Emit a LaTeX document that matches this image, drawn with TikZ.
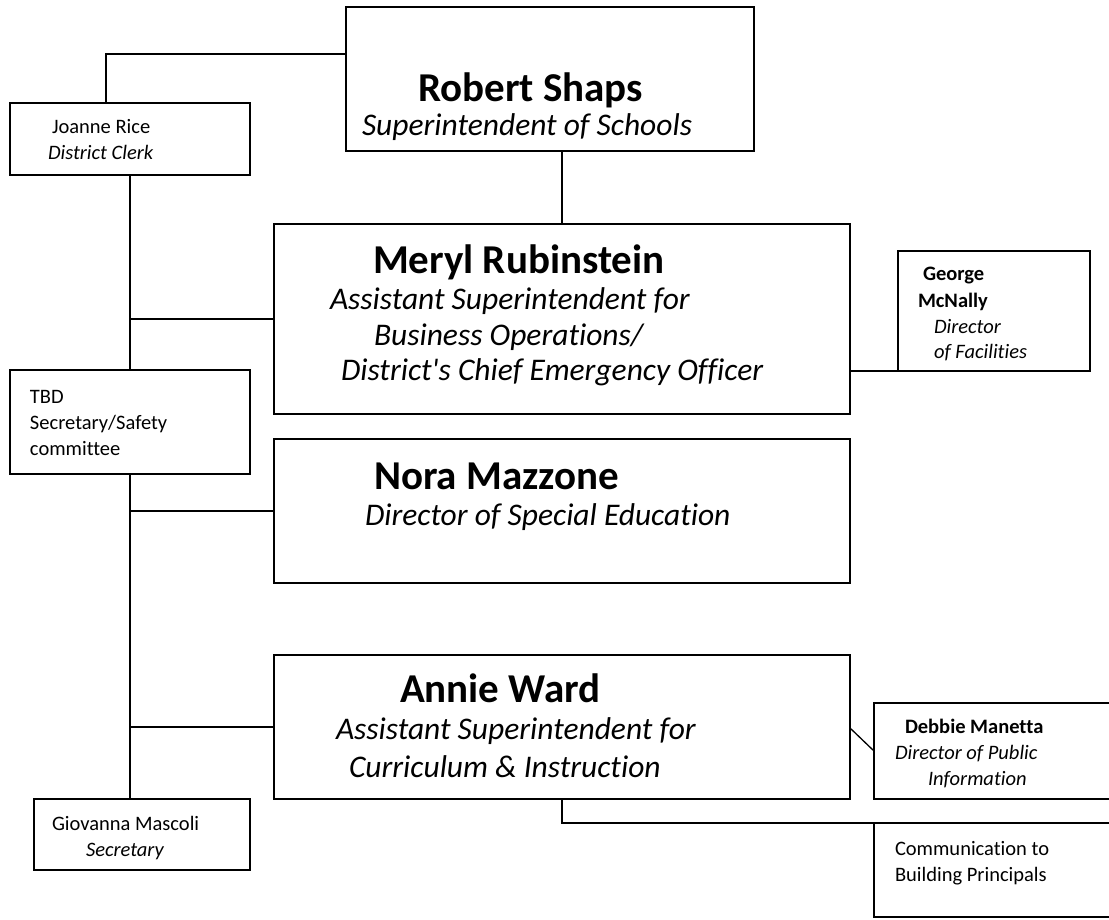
\documentclass[tikz,border=0pt]{standalone}
\usepackage{fontspec}
\setmainfont{Carlito}[Ligatures={NoCommon,TeXOff}]
\begin{document}
\begin{tikzpicture}[x=1pt,y=-1pt,
  box/.style={draw, line width=1.7pt, rectangle, anchor=north west, inner sep=0pt, outer sep=0pt},
  conn/.style={line width=1.3pt},
  txt/.style={anchor=base west, inner sep=0pt, outer sep=0pt},
  nm/.style={txt, font=\fontsize{41}{48}\selectfont\bfseries},
  ttl/.style={txt, font=\fontsize{31.5}{36}\selectfont\itshape},
  sm/.style={txt, font=\fontsize{20.5}{26}\selectfont},
  smb/.style={txt, font=\fontsize{20.5}{26}\selectfont\bfseries},
  smi/.style={txt, font=\fontsize{20.5}{26}\selectfont\itshape}]
\clip (0,0) rectangle (1109,919);
\fill[white] (0,0) rectangle (1109,919);
% boxes
\node[box, minimum width=408pt, minimum height=144pt] (robert) at (346,7) {};
\node[box, minimum width=240pt, minimum height=72pt] (joanne) at (10,103) {};
\node[box, minimum width=576pt, minimum height=190pt] (meryl) at (274,224) {};
\node[box, minimum width=240pt, minimum height=104pt] (tbd) at (10,370) {};
\node[box, minimum width=576pt, minimum height=144pt] (nora) at (274,439) {};
\node[box, minimum width=576pt, minimum height=144pt] (annie) at (274,655) {};
\node[box, minimum width=216pt, minimum height=71pt] (giov) at (34,799) {};
\node[box, minimum width=192pt, minimum height=120pt] (george) at (898,251) {};
\node[box, minimum width=260pt, minimum height=96pt] (debbie) at (874,703) {};
\node[box, minimum width=260pt, minimum height=94pt] (comm) at (874,823) {};
% helper coordinates
\coordinate (jx) at (106,54);
\coordinate (mx) at (562,0);
\coordinate (sx) at (130,0);
\coordinate (b1) at (130,319);
\coordinate (b2) at (130,511);
\coordinate (b3) at (130,727);
\coordinate (d1) at (0,728);
\coordinate (d2) at (0,751);
% connectors
\draw[conn] (robert.west |- jx) -- (jx) -- (joanne.north -| jx);
\draw[conn] (robert.south -| mx) -- (meryl.north -| mx);
\draw[conn] (joanne.south -| sx) -- (tbd.north -| sx);
\draw[conn] (tbd.south -| sx) -- (giov.north -| sx);
\draw[conn] (b1) -- (meryl.west |- b1);
\draw[conn] (b2) -- (nora.west |- b2);
\draw[conn] (b3) -- (annie.west |- b3);
\draw[conn] (meryl.east |- george.south) -- (george.south west);
\draw[conn] (annie.east |- d1) -- (debbie.west |- d2);
\draw[conn] (annie.south -| mx) -- (mx |- comm.north) -- (comm.north west);
% texts
\node[nm] (t1) at (418,101) {Robert Shaps};
\node[ttl] (t2) at (362,135) {Superintendent of Schools};
\node[sm] (t3) at (52,133) {Joanne Rice};
\node[smi] (t4) at (48,159) {District Clerk};
\node[nm] (t5) at (373,273) {Meryl Rubinstein};
\node[ttl] (t6) at (330,309) {Assistant Superintendent for};
\node[ttl] (t7) at (374,345) {Business Operations/};
\node[ttl] (t8) at (341,380) {District's Chief Emergency Officer};
\node[smb] (t9) at (923,280) {George};
\node[smb] (t10) at (918,307) {McNally};
\node[smi] (t11) at (934,333) {Director};
\node[smi] (t12) at (934,358) {of Facilities};
\node[sm] (t13) at (30,403) {TBD};
\node[sm] (t14) at (30,429) {Secretary/Safety};
\node[sm] (t15) at (30,455) {committee};
\node[nm] (t16) at (374,489) {Nora Mazzone};
\node[ttl] (t17) at (365,525) {Director of Special Education};
\node[nm] (t18) at (400,702) {Annie Ward};
\node[ttl] (t19) at (336,739) {Assistant Superintendent for};
\node[ttl] (t20) at (349,777) {Curriculum \& Instruction};
\node[smb] (t21) at (905,733) {Debbie Manetta};
\node[smi] (t22) at (895,759) {Director of Public};
\node[smi] (t23) at (928,785) {Information};
\node[sm] (t24) at (895,855) {Communication to};
\node[sm] (t25) at (895,881) {Building Principals};
\node[sm] (t26) at (52,830) {Giovanna Mascoli};
\node[smi] (t27) at (86,856) {Secretary};
\end{tikzpicture}
\end{document}
